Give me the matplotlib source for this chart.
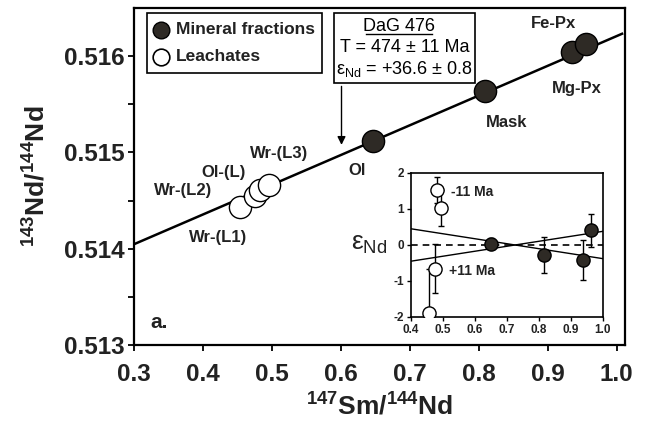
import matplotlib
matplotlib.use("Agg")
import matplotlib.pyplot as plt
from matplotlib.patches import Rectangle
import numpy as np

plt.rcParams['font.family'] = ['Liberation Sans', 'DejaVu Sans']
plt.rcParams['mathtext.fontset'] = 'custom'
plt.rcParams['mathtext.rm'] = 'Liberation Sans'
plt.rcParams['mathtext.it'] = 'Liberation Sans'
plt.rcParams['mathtext.bf'] = 'Liberation Sans:bold'

# ---- data: main isochron ----
mineral_names = ["Ol", "Mask", "Mg-Px", "Fe-Px"]
mineral_x = [0.646, 0.809, 0.936, 0.956]
mineral_y = [0.515124, 0.515642, 0.516040, 0.516130]
leach_names = ["Wr-(L1)", "Wr-(L2)", "Ol-(L)", "Wr-(L3)"]
leach_x = [0.454, 0.475, 0.483, 0.496]
leach_y = [0.514430, 0.514550, 0.514610, 0.514660]
iso_x = [0.3, 1.008]
iso_y = [0.514047, 0.516233]

# ---- data: inset epsilon Nd residuals ----
ins_min_x = [0.649, 0.816, 0.938, 0.961]
ins_min_eps = [0.04, -0.27, -0.41, 0.41]
ins_min_err = [0.15, 0.50, 0.55, 0.46]
ins_lea_x = [0.457, 0.475, 0.481, 0.494]
ins_lea_eps = [-1.88, -0.66, 1.54, 1.04]
ins_lea_err = [1.20, 0.68, 0.36, 0.50]
minus11_x = [0.4, 1.0]
minus11_y = [0.45, -0.38]
plus11_x = [0.4, 1.0]
plus11_y = [-0.45, 0.38]

xticks = [0.3, 0.4, 0.5, 0.6, 0.7, 0.8, 0.9, 1.0]
yticks = [0.513, 0.514, 0.515, 0.516]
ins_xticks = [0.4, 0.5, 0.6, 0.7, 0.8, 0.9, 1.0]
ins_yticks = [-2, -1, 0, 1, 2]

dark = '#2e2a25'

fig = plt.figure(figsize=(6.57, 4.24), dpi=100)
ax = fig.add_axes([0.204, 0.1863, 0.747, 0.7947])
ax.set_xlim(0.3, 1.012)
ax.set_ylim(0.513, 0.5165)

ax.plot(iso_x, iso_y, color='black', lw=1.8, zorder=2)
ax.plot(leach_x, leach_y, 'o', ms=16, mfc='white', mec='black', mew=1.0, zorder=3, linestyle='none')
ax.plot(mineral_x, mineral_y, 'o', ms=16, mfc=dark, mec='black', mew=1.0, zorder=3, linestyle='none')

ax.set_xticks(xticks)
ax.set_xticklabels([f"{v:.1f}" for v in xticks])
ax.set_yticks(yticks)
ax.set_yticklabels([f"{v:.3f}" for v in yticks])
ax.set_yticks([0.5135, 0.5145, 0.5155], minor=True)
ax.tick_params(axis='both', which='major', direction='out', length=4, width=1.3,
               labelsize=17.5, pad=3)
ax.tick_params(axis='x', which='major', pad=9)
ax.tick_params(axis='y', which='minor', direction='out', length=4, width=1.3)
for lab in ax.get_xticklabels() + ax.get_yticklabels():
    lab.set_fontweight('bold')
    lab.set_color('#222222')
for sp in ax.spines.values():
    sp.set_linewidth(1.6)

ax.set_xlabel(r"$^{\mathbf{147}}$Sm/$^{\mathbf{144}}$Nd", fontsize=19, fontweight='bold', labelpad=5, color='#222222')
ax.set_ylabel(r"$^{\mathbf{143}}$Nd/$^{\mathbf{144}}$Nd", fontsize=19, fontweight='bold', labelpad=10, color='#222222')

lab_kw = dict(fontsize=12, fontweight='bold', ha='center', va='center', color='#222222')
ax.text(0.909, 0.516337, "Fe-Px", **lab_kw)
ax.text(0.942, 0.515663, "Mg-Px", **lab_kw)
ax.text(0.8406, 0.515311, "Mask", **lab_kw)
ax.text(0.623, 0.514813, "Ol", **lab_kw)
ax.text(0.510, 0.514990, "Wr-(L3)", **lab_kw)
ax.text(0.430, 0.514793, "Ol-(L)", **lab_kw)
ax.text(0.371, 0.514606, "Wr-(L2)", **lab_kw)
ax.text(0.422, 0.514119, "Wr-(L1)", **lab_kw)
ax.text(0.336, 0.513238, "a.", fontsize=15, fontweight='bold', ha='center', va='center', color='#222222')

# legend box
ax.add_patch(Rectangle((0.0265, 0.807), 0.3565, 0.178, transform=ax.transAxes,
                       fill=True, facecolor='white', edgecolor='black', lw=1.2, zorder=4))
ax.plot([0.054], [0.936], 'o', ms=12, mfc=dark, mec='black', transform=ax.transAxes, zorder=5)
ax.plot([0.054], [0.856], 'o', ms=12, mfc='white', mec='black', mew=1.2, transform=ax.transAxes, zorder=5)
ax.text(0.085, 0.936, "Mineral fractions", transform=ax.transAxes, fontsize=12.5,
        fontweight='bold', va='center', ha='left', zorder=5, color='#222222')
ax.text(0.085, 0.856, "Leachates", transform=ax.transAxes, fontsize=12.5,
        fontweight='bold', va='center', ha='left', zorder=5, color='#222222')

# info box
ax.add_patch(Rectangle((0.407, 0.777), 0.288, 0.208, transform=ax.transAxes,
                       fill=True, facecolor='white', edgecolor='black', lw=1.2, zorder=4))
ax.text(0.54, 0.946, "DaG 476", transform=ax.transAxes, fontsize=13,
        ha='center', va='center', zorder=5)
ax.plot([0.472, 0.608], [0.922, 0.922], color='black', lw=1.0, transform=ax.transAxes, zorder=5)
ax.text(0.551, 0.882, "T = 474 ± 11 Ma", transform=ax.transAxes, fontsize=13,
        ha='center', va='center', zorder=5)
ax.text(0.551, 0.818, r"$\varepsilon_{\mathrm{Nd}}$ = +36.6 ± 0.8", transform=ax.transAxes, fontsize=13,
        ha='center', va='center', zorder=5)
ax.annotate("", xy=(0.601, 0.51505), xytext=(0.601, 0.515715),
            arrowprops=dict(arrowstyle='-|>', color='black', lw=1.0, mutation_scale=12), zorder=3)

# inset
ins = fig.add_axes([0.6256, 0.2524, 0.2922, 0.3396])
ins.set_xlim(0.4, 1.0)
ins.set_ylim(-2, 2)
ins.axhline(0, color='black', lw=1.2, ls=(0, (4, 3)), zorder=1)
ins.plot(minus11_x, minus11_y, color='black', lw=1.0, zorder=1)
ins.plot(plus11_x, plus11_y, color='black', lw=1.0, zorder=1)
ins.errorbar(ins_lea_x, ins_lea_eps, yerr=ins_lea_err, fmt='o', ms=9.5, mfc='white',
             mec='black', mew=1.0, ecolor='black', elinewidth=1.0, capsize=2.5, zorder=3)
ins.errorbar(ins_min_x, ins_min_eps, yerr=ins_min_err, fmt='o', ms=9.5, mfc=dark,
             mec='black', mew=1.0, ecolor='black', elinewidth=1.0, capsize=2.5, zorder=3)
ins.set_xticks(ins_xticks)
ins.set_xticklabels([f"{v:.1f}" for v in ins_xticks])
ins.set_yticks(ins_yticks)
ins.set_yticklabels([str(v) for v in ins_yticks])
ins.tick_params(direction='out', length=3, width=1.0, labelsize=8.5, pad=2)
for lab in ins.get_xticklabels() + ins.get_yticklabels():
    lab.set_fontweight('bold')
    lab.set_color('#222222')
for sp in ins.spines.values():
    sp.set_linewidth(1.2)
ins.text(0.59, 1.48, "-11 Ma", fontsize=10, fontweight='bold', ha='center', va='center', color='#222222')
ins.text(0.59, -0.71, "+11 Ma", fontsize=10, fontweight='bold', ha='center', va='center', color='#222222')
fig.text(0.561, 0.425, r"$\varepsilon_{\mathrm{Nd}}$", fontsize=19, ha='center', va='center', color='#222222')

fig.savefig("out.png", dpi=100)
